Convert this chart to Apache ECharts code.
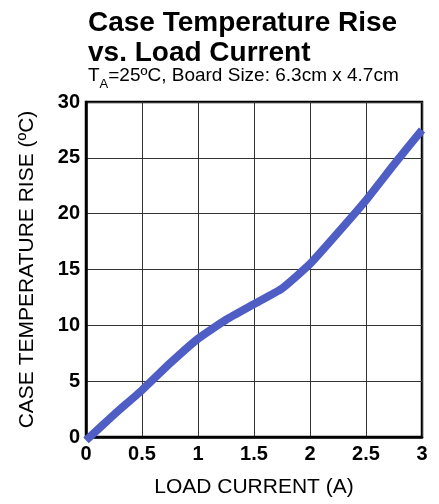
<!DOCTYPE html>
<html>
<head>
<meta charset="utf-8">
<script src="https://cdn.jsdelivr.net/npm/echarts@6/dist/echarts.min.js"></script>
<style>
  html, body { margin: 0; padding: 0; background: #fff; }
  #chart { width: 439px; height: 504px; }
</style>
</head>
<body>
<div id="chart"></div>
<script>
  // load current (A) and case temperature rise (ºC)
  var currentA = [0, 0.25, 0.5, 0.75, 1, 1.25, 1.5, 1.75, 2, 2.25, 2.5, 2.75, 3];
  var tempRise = [-0.3, 2.0, 4.2, 6.6, 8.8, 10.5, 11.9, 13.3, 15.5, 18.3, 21.2, 24.4, 27.5];

  var FONT = 'Liberation Sans, Arial, sans-serif';

  var points = [];
  currentA.forEach(function(x, i){
    points.push([x, tempRise[i]]);
  });

  var myChart = echarts.init(document.getElementById('chart'));

  var option = {
    backgroundColor: '#fff',
    animation: false,
    title: [{
      text: 'Case Temperature Rise\nvs. Load Current',
      left: 88,
      top: 8,
      padding: 0,
      textStyle: {
        fontFamily: FONT,
        fontSize: 28,
        fontWeight: 'bold',
        lineHeight: 30,
        color: '#000'
      }
    }, {
      text: '{t|T}{s|A}{t|=25ºC, Board Size: 6.3cm x 4.7cm}',
      left: 88,
      top: 66,
      padding: 0,
      textStyle: {
        fontWeight: 'normal',
        rich: {
          t: { fontFamily: FONT, fontSize: 19, fontWeight: 'normal', lineHeight: 18, color: '#000', verticalAlign: 'top' },
          s: { fontFamily: FONT, fontSize: 13, fontWeight: 'normal', lineHeight: 14, color: '#000', verticalAlign: 'top', padding: [12, 0, 0, 0] }
        }
      }
    }],
    grid: {
      left: 86,
      right: 17,
      top: 102,
      bottom: 67,
      show: true,
      borderColor: '#000',
      borderWidth: 2.5,
      containLabel: false
    },
    xAxis: {
      type: 'value',
      min: 0,
      max: 3,
      interval: 0.5,
      name: 'LOAD CURRENT (A)',
      nameLocation: 'middle',
      nameGap: 40,
      nameTextStyle: { fontFamily: FONT, fontSize: 21, color: '#000' },
      axisLine: { show: true, lineStyle: { color: '#000', width: 2.5 } },
      axisTick: { show: false },
      axisLabel: { margin: 7, fontFamily: FONT, fontSize: 20, fontWeight: 'bold', color: '#000' },
      splitLine: { show: true, lineStyle: { color: '#333', width: 1 } }
    },
    yAxis: {
      type: 'value',
      min: 0,
      max: 30,
      interval: 5,
      name: 'CASE TEMPERATURE RISE (ºC)',
      nameLocation: 'middle',
      nameGap: 48,
      nameTextStyle: { fontFamily: FONT, fontSize: 21, color: '#000' },
      axisLine: { show: true, lineStyle: { color: '#000', width: 2.5 } },
      axisTick: { show: false },
      axisLabel: { margin: 6, fontFamily: FONT, fontSize: 20, fontWeight: 'bold', color: '#000' },
      splitLine: { show: true, lineStyle: { color: '#333', width: 1 } }
    },
    series: [{
      name: 'Case Temperature Rise',
      type: 'line',
      data: points,
      clip: false,
      smooth: 0.15,
      symbol: 'none',
      lineStyle: { color: '#4E5EC5', width: 8 }
    }]
  };

  myChart.setOption(option);
</script>
</body>
</html>
